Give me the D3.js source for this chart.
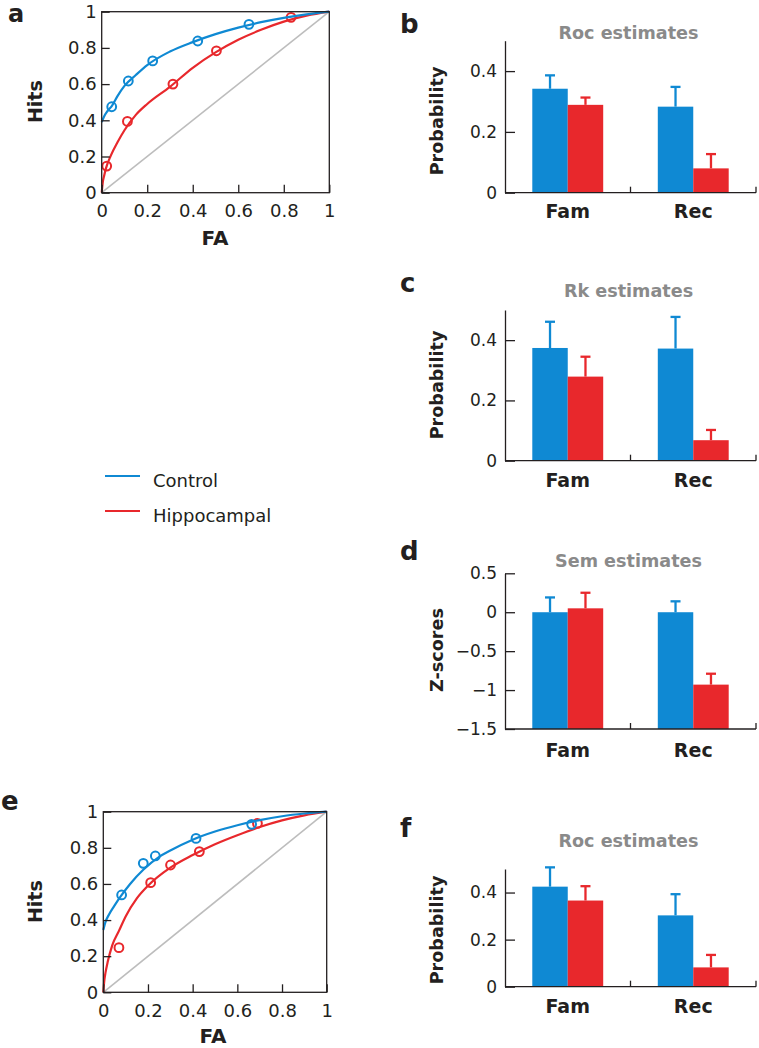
<!DOCTYPE html>
<html><head><meta charset="utf-8">
<script src="https://cdn.jsdelivr.net/npm/d3@7"></script>
<style>body{margin:0;background:#fff} svg{display:block} text{font-family:"DejaVu Sans",sans-serif}</style>
</head><body><svg id="chart" width="759" height="1048"></svg>
<script>
// ---------- data ----------
const groups = ["Fam", "Rec"];
const seriesNames = ["Control", "Hippocampal"];
const rocTicks = [0, 0.2, 0.4, 0.6, 0.8, 1];
const probTicks = [0, 0.2, 0.4];
const zTicks = [0.5, 0, -0.5, -1, -1.5];

// Panel a: ROC points
const aControlFA   = [0.044, 0.117, 0.224, 0.422, 0.647];
const aControlHits = [0.475, 0.617, 0.728, 0.838, 0.930];
const aHippoFA     = [0.022, 0.113, 0.313, 0.504, 0.832];
const aHippoHits   = [0.147, 0.394, 0.600, 0.784, 0.969];
// Panel a: fitted curves
const aControlCurveFA   = [0, 0.01, 0.025, 0.045, 0.07, 0.1, 0.15, 0.2, 0.3, 0.4, 0.5, 0.6, 0.7, 0.8, 0.9, 1];
const aControlCurveHits = [0.39, 0.42, 0.45, 0.48, 0.535, 0.59, 0.65, 0.705, 0.78, 0.832, 0.876, 0.912, 0.942, 0.966, 0.985, 1];
const aHippoCurveFA     = [0, 0.005, 0.01, 0.02, 0.04, 0.07, 0.1, 0.15, 0.2, 0.3, 0.4, 0.5, 0.6, 0.7, 0.8, 0.9, 1];
const aHippoCurveHits   = [0, 0.06, 0.09, 0.14, 0.205, 0.28, 0.345, 0.43, 0.49, 0.585, 0.69, 0.775, 0.845, 0.9, 0.945, 0.978, 1];

// Panel e: ROC points
const eControlFA   = [0.082, 0.179, 0.233, 0.415, 0.664];
const eControlHits = [0.539, 0.714, 0.755, 0.852, 0.930];
const eHippoFA     = [0.070, 0.212, 0.301, 0.430, 0.690];
const eHippoHits   = [0.247, 0.607, 0.705, 0.779, 0.935];
const eControlCurveFA   = [0, 0.01, 0.025, 0.05, 0.08, 0.12, 0.18, 0.25, 0.3, 0.4, 0.5, 0.6, 0.7, 0.8, 0.9, 1];
const eControlCurveHits = [0.345, 0.39, 0.43, 0.48, 0.535, 0.6, 0.68, 0.75, 0.785, 0.845, 0.89, 0.925, 0.953, 0.975, 0.99, 1];
const eHippoCurveFA     = [0, 0.005, 0.01, 0.02, 0.04, 0.07, 0.1, 0.15, 0.2, 0.3, 0.4, 0.5, 0.6, 0.7, 0.8, 0.9, 1];
const eHippoCurveHits   = [0, 0.07, 0.11, 0.17, 0.26, 0.34, 0.42, 0.52, 0.59, 0.69, 0.76, 0.82, 0.87, 0.915, 0.952, 0.98, 1];

// Panel b: Roc estimates
const bControl = [0.342, 0.283], bControlErr = [0.044, 0.065];
const bHippo   = [0.289, 0.080], bHippoErr   = [0.024, 0.047];
// Panel c: Rk estimates
const cControl = [0.374, 0.372], cControlErr = [0.087, 0.105];
const cHippo   = [0.279, 0.068], cHippoErr   = [0.066, 0.034];
// Panel d: Sem estimates (z-scores)
const dControl = [0, 0], dControlErr = [0.19, 0.14];
const dHippo   = [0.05, -0.93], dHippoErr = [0.20, 0.14];
// Panel f: Roc estimates
const fControl = [0.425, 0.303], fControlErr = [0.082, 0.090];
const fHippo   = [0.366, 0.082], fHippoErr   = [0.061, 0.053];

// ---------- styles ----------
const BLUE = "#0f89d3", RED = "#e8282c", TITLE = "#8a8a8a", INK = "#231f20", DIAG = "#bdbdbd";
const svg = d3.select("#chart");

function letter(t, x, y, size) {
  svg.append("text").attr("x", x).attr("y", y).attr("font-size", size || 26).attr("font-weight", "bold")
    .attr("fill", INK).text(t);
}
function vLabel(t, x, cy, size) {
  svg.append("text").attr("transform", `translate(${x},${cy}) rotate(-90)`).attr("text-anchor", "middle")
    .attr("font-size", size).attr("font-weight", "bold").attr("fill", INK).text(t);
}
const fmtRoc = d => d === 0 ? "0" : d === 1 ? "1" : d.toFixed(1);
const fmtZ = d => d === 0 ? "0" : (d < 0 ? "\u2212" : "") + Math.abs(d);

function styleAxis(g, size) {
  g.selectAll("text").attr("font-size", size).attr("fill", INK).attr("font-family", '"DejaVu Sans",sans-serif');
  g.selectAll("line").attr("stroke", INK).attr("stroke-width", 1.3);
  g.selectAll("path.domain").attr("stroke", INK).attr("stroke-width", 1.3);
}

function drawRoc(c) {
  const x = d3.scaleLinear().domain([0, 1]).range([c.x0, c.x1]);
  const y = d3.scaleLinear().domain([0, 1]).range([c.yb, c.yt]);
  const g = svg.append("g");
  g.append("line").attr("x1", x(0)).attr("y1", y(0)).attr("x2", x(1)).attr("y2", y(1))
    .attr("stroke", DIAG).attr("stroke-width", 1.6);
  const line = d3.line().x(d => x(d[0])).y(d => y(d[1])).curve(d3.curveMonotoneX);
  const sets = [
    [c.hCurveFA, c.hCurveH, c.hFA, c.hH, RED],
    [c.cCurveFA, c.cCurveH, c.cFA, c.cH, BLUE]
  ];
  sets.forEach(([cf, ch, pf, ph, col]) => {
    g.append("path").datum(d3.zip(cf, ch)).attr("d", line).attr("fill", "none")
      .attr("stroke", col).attr("stroke-width", 2.2);
    g.selectAll(null).data(d3.zip(pf, ph)).join("circle")
      .attr("cx", d => x(d[0])).attr("cy", d => y(d[1])).attr("r", 4.4)
      .attr("fill", "none").attr("stroke", col).attr("stroke-width", 2);
  });
  g.append("rect").attr("x", c.x0).attr("y", c.yt).attr("width", c.x1 - c.x0).attr("height", c.yb - c.yt)
    .attr("fill", "none").attr("stroke", INK).attr("stroke-width", 1.3);
  const ax = g.append("g").attr("transform", `translate(0,${c.yb})`)
    .call(d3.axisBottom(x).tickValues(rocTicks).tickFormat(fmtRoc).tickSizeInner(-8).tickSizeOuter(0).tickPadding(11.5));
  ax.select("path.domain").remove();
  styleAxis(ax, 18);
  const ay = g.append("g").attr("transform", `translate(${c.x0},0)`)
    .call(d3.axisLeft(y).tickValues(rocTicks).tickFormat(fmtRoc).tickSizeInner(-8).tickSizeOuter(0).tickPadding(5));
  ay.select("path.domain").remove();
  styleAxis(ay, 18);
  vLabel("Hits", 41.5, c.hitsY, 19);
  svg.append("text").attr("x", c.faX).attr("y", c.faY).attr("text-anchor", "middle")
    .attr("font-size", 20).attr("font-weight", "bold").attr("fill", INK).text("FA");
}

function drawBars(c) {
  const x = d3.scaleBand().domain(groups).range([505, 756]);
  const xs = d3.scaleBand().domain(seriesNames).range([0, x.bandwidth()]).paddingOuter(0.77);
  const y = d3.scaleLinear().domain(c.domain).range([c.yb, c.yt]);
  const g = svg.append("g");
  const data = [];
  groups.forEach((grp, i) => {
    data.push({grp, s: "Control", v: c.ctrl[i], e: c.ctrlErr[i], col: BLUE});
    data.push({grp, s: "Hippocampal", v: c.hipp[i], e: c.hippErr[i], col: RED});
  });
  const base = c.domain[0];
  g.selectAll(null).data(data).join("rect")
    .attr("x", d => x(d.grp) + xs(d.s)).attr("width", xs.bandwidth())
    .attr("y", d => y(d.v)).attr("height", d => y(base) - y(d.v)).attr("fill", d => d.col);
  // error bars
  data.forEach(d => {
    const cx = x(d.grp) + xs(d.s) + xs.bandwidth() / 2;
    g.append("line").attr("x1", cx).attr("x2", cx).attr("y1", y(d.v)).attr("y2", y(d.v + d.e))
      .attr("stroke", d.col).attr("stroke-width", 2.3);
    g.append("line").attr("x1", cx - 5).attr("x2", cx + 5).attr("y1", y(d.v + d.e)).attr("y2", y(d.v + d.e))
      .attr("stroke", d.col).attr("stroke-width", 2.3);
  });
  // left axis
  const ay = g.append("g").attr("transform", "translate(505,0)")
    .call(d3.axisLeft(y).tickValues(c.ticks).tickFormat(c.fmt).tickSizeInner(-10).tickSizeOuter(0).tickPadding(8));
  styleAxis(ay, 17);
  // bottom axis
  const [r0, r1] = x.range();
  g.append("line").attr("x1", r0).attr("x2", r1).attr("y1", c.yb).attr("y2", c.yb)
    .attr("stroke", INK).attr("stroke-width", 1.3);
  [x("Rec"), r1].forEach(tx => {
    g.append("line").attr("x1", tx).attr("x2", tx).attr("y1", c.yb).attr("y2", c.yb - 6)
      .attr("stroke", INK).attr("stroke-width", 1.3);
  });
  groups.forEach(grp => {
    g.append("text").attr("x", x(grp) + x.bandwidth() / 2).attr("y", c.catY).attr("text-anchor", "middle")
      .attr("font-size", 19).attr("font-weight", "bold").attr("fill", INK).text(grp);
  });
  svg.append("text").attr("x", 628.5).attr("y", c.titleY).attr("text-anchor", "middle")
    .attr("font-size", 17.6).attr("font-weight", "bold").attr("fill", TITLE).text(c.title);
  vLabel(c.yLabel, 443, c.yLabelY, 17.6);
  letter(c.letter, 400, c.letterY);
}

// ---------- panels ----------
letter("a", 8, 22.4, 24);
drawRoc({x0: 101.7, x1: 329.3, yt: 11.7, yb: 192.7,
  cFA: aControlFA, cH: aControlHits, hFA: aHippoFA, hH: aHippoHits,
  cCurveFA: aControlCurveFA, cCurveH: aControlCurveHits, hCurveFA: aHippoCurveFA, hCurveH: aHippoCurveHits,
  hitsY: 101.7, faX: 215, faY: 245});

letter("e", 1, 810);
drawRoc({x0: 103.3, x1: 326.7, yt: 811.7, yb: 992.3,
  cFA: eControlFA, cH: eControlHits, hFA: eHippoFA, hH: eHippoHits,
  cCurveFA: eControlCurveFA, cCurveH: eControlCurveHits, hCurveFA: eHippoCurveFA, hCurveH: eHippoCurveHits,
  hitsY: 901.7, faX: 213, faY: 1043});

drawBars({letter: "b", letterY: 33.3, title: "Roc estimates", titleY: 39.3, yLabel: "Probability", yLabelY: 121,
  domain: [0, 0.5], yb: 192.7, yt: 40.7, ticks: probTicks, fmt: fmtRoc, catY: 218,
  ctrl: bControl, ctrlErr: bControlErr, hipp: bHippo, hippErr: bHippoErr});
drawBars({letter: "c", letterY: 291.7, title: "Rk estimates", titleY: 296.7, yLabel: "Probability", yLabelY: 385,
  domain: [0, 0.5], yb: 460.7, yt: 310, ticks: probTicks, fmt: fmtRoc, catY: 486.7,
  ctrl: cControl, ctrlErr: cControlErr, hipp: cHippo, hippErr: cHippoErr});
drawBars({letter: "d", letterY: 560, title: "Sem estimates", titleY: 566.7, yLabel: "Z-scores", yLabelY: 650,
  domain: [-1.5, 0.5], yb: 729, yt: 573.3, ticks: zTicks, fmt: fmtZ, catY: 756.7,
  ctrl: dControl, ctrlErr: dControlErr, hipp: dHippo, hippErr: dHippoErr});
drawBars({letter: "f", letterY: 836.7, title: "Roc estimates", titleY: 847.3, yLabel: "Probability", yLabelY: 930,
  domain: [0, 0.5], yb: 986.7, yt: 869, ticks: probTicks, fmt: fmtRoc, catY: 1013.3,
  ctrl: fControl, ctrlErr: fControlErr, hipp: fHippo, hippErr: fHippoErr});

// ---------- legend ----------
const legend = svg.append("g");
seriesNames.forEach((s, i) => {
  const ly = 476 + i * 35;
  legend.append("line").attr("x1", 105).attr("x2", 140).attr("y1", ly).attr("y2", ly)
    .attr("stroke", i === 0 ? BLUE : RED).attr("stroke-width", 2.2);
  legend.append("text").attr("x", 153).attr("y", ly + 10.5).attr("font-size", 18).attr("fill", INK).text(s);
});
</script></body></html>
